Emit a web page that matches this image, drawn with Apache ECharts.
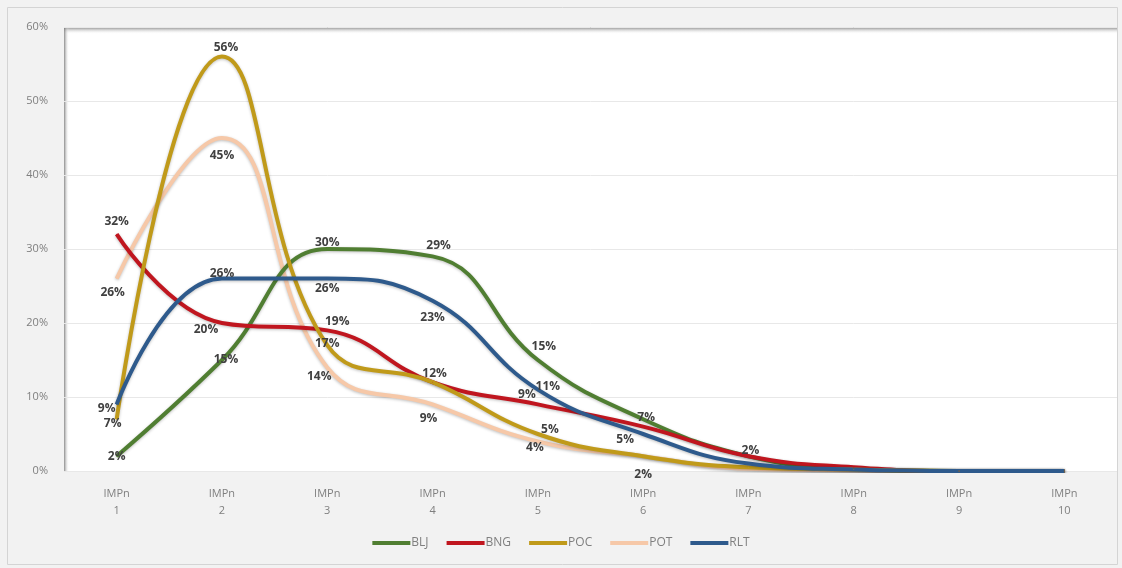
<!DOCTYPE html>
<html><head><meta charset="utf-8">
<script src="https://cdn.jsdelivr.net/npm/echarts@6/dist/echarts.min.js"></script>
<style>html,body{margin:0;padding:0;background:#f7f7f7;}#c{width:1122px;height:568px;}</style>
</head><body><div id="c"></div>
<script>
const categories = ['IMPn\n1','IMPn\n2','IMPn\n3','IMPn\n4','IMPn\n5','IMPn\n6','IMPn\n7','IMPn\n8','IMPn\n9','IMPn\n10'];
const BLJ = [2, 15, 30, 29, 15, 7, 2, 0.3, 0, 0];
const BNG = [32, 20, 19, 12, 9, 6, 2, 0.5, 0, 0];
const POC = [7, 56, 17, 12, 5, 2, 0.5, 0.2, 0, 0];
const POT = [26, 45, 14, 9, 4, 2, 0.3, 0.1, 0, 0];
const RLT = [9, 26, 26, 23, 11, 5, 1, 0.2, 0, 0];
const yTicks = [0, 10, 20, 30, 40, 50, 60];

// label offsets per point (style), null = no label
const labelOffsets = {
  BLJ: [[0,0],[4,0],[0,-6],[6,-11],[6,-13],[3,-2],null,null,null,null],
  BNG: [[0,-13],[-16,7],[10,-9],[2,-9],[-11,-10],null,[2,-6],null,null,null],
  POC: [[-4,4],[4,-9],[0,-2],null,[12,-4],null,null,null,null,null],
  POT: [[-4,14],[0,18],[-8,9],[-4,14],[-3,6],[0,18],null,null,null,null],
  RLT: [[-10,4],[0,-5],[0,10],[0,17],[10,-3],[-18,6],null,null,null,null]
};
const colors = {BLJ:'#507e32', BNG:'#c0161f', POC:'#c09a1a', POT:'#f6c8a8', RLT:'#2e5a8c'};
const seriesData = {BLJ, BNG, POC, POT, RLT};

const series = Object.keys(seriesData).map(name => ({
  name, type:'line', smooth:0.45, symbol:'circle', symbolSize:1, z: name==='POT'?2:3,
  lineStyle:{width:4, color:colors[name], shadowColor:'rgba(0,0,0,0.25)', shadowBlur:3, shadowOffsetY:1},
  itemStyle:{color:colors[name]},
  emphasis:{disabled:true},
  data: seriesData[name].map((v,i) => {
    const off = labelOffsets[name][i];
    return {value:v, label: off ? {show:true, position:'inside', offset:off} : {show:false}};
  }),
  label:{formatter: p => Math.round(p.value) + '%', color:'#404040', fontWeight:'bold', fontSize:12, fontFamily:'Open Sans'}
}));

const chart = echarts.init(document.getElementById('c'));
chart.setOption({
  backgroundColor:'#f2f2f2',
  animation:false,
  color: Object.values(colors),
  grid:{left:64, right:5, top:27, bottom:97, show:true, backgroundColor:'#ffffff', borderWidth:0},
  graphic:[
    {type:'rect', shape:{x:7.5, y:7.5, width:1110, height:557}, style:{fill:'none', stroke:'#d4d4d4', lineWidth:1}, silent:true, z:-1},
    {type:'rect', shape:{x:64, y:27, width:1053, height:7}, style:{fill:new echarts.graphic.LinearGradient(0,0,0,1,[{offset:0,color:'rgba(110,110,110,0.85)'},{offset:1,color:'rgba(255,255,255,0)'}])}, silent:true, z:0},
    {type:'rect', shape:{x:64, y:27, width:5, height:444}, style:{fill:new echarts.graphic.LinearGradient(0,0,1,0,[{offset:0,color:'rgba(110,110,110,0.8)'},{offset:1,color:'rgba(255,255,255,0)'}])}, silent:true, z:0}
  ],
  legend:{bottom:14, left:'center', itemWidth:38, itemHeight:4, itemGap:18, icon:'rect',
    textStyle:{color:'#7f7f7f', fontSize:12, fontFamily:'Open Sans', padding:[0,0,0,-4]},
    data:Object.keys(seriesData)},
  xAxis:{type:'category', data:categories, boundaryGap:true,
    axisLine:{show:false}, axisTick:{show:false},
    axisLabel:{color:'#7f7f7f', fontSize:11, fontFamily:'Open Sans', lineHeight:17, margin:14, interval:0}},
  yAxis:{type:'value', min:yTicks[0], max:yTicks[yTicks.length-1], interval:10,
    axisLine:{show:false}, axisTick:{show:false},
    axisLabel:{formatter:'{value}%', color:'#7f7f7f', fontSize:11, fontFamily:'Open Sans', margin:16},
    splitLine:{lineStyle:{color:'#e8e8e8', width:1}}},
  series
});
</script></body></html>
